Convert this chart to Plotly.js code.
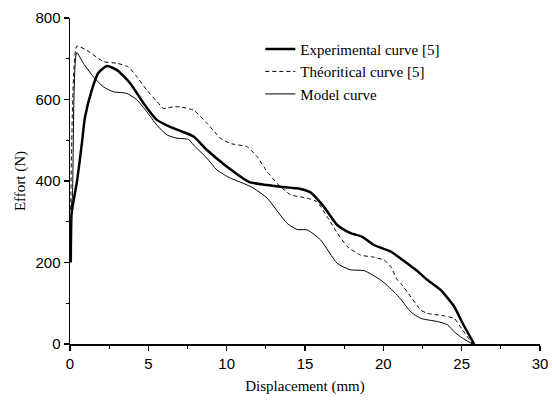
<!DOCTYPE html>
<html><head><meta charset="utf-8">
<script src="https://cdn.plot.ly/plotly-3.0.1.min.js"></script>
<style>html,body{margin:0;padding:0;background:#fff}#chart{width:552px;height:400px}</style>
</head><body><div id="chart"></div>
<script>
// Experimental curve [5]
const expX = [0.05, 0.1, 0.2, 0.45, 0.75, 0.96, 1.39, 1.8, 2.35, 3.0, 3.84, 4.69, 5.54, 6.4, 7.04, 7.89, 8.74, 10.02, 11.41, 12.58, 13.44, 14.5, 15.35, 16.2, 17.06, 17.91, 18.66, 19.4, 20.47, 21.1, 22.07, 22.82, 23.67, 24.52, 25.06, 25.8];
const expY = [200, 320, 345, 400, 490, 557, 623, 665, 682, 672, 640, 591, 550, 533, 523, 509, 476, 435, 398, 390, 386, 382, 372, 337, 292, 272, 263, 243, 227, 210, 182, 157, 132, 92, 51, 0];
// Théoritical curve [5]
const theoX = [0.05, 0.43, 1.07, 2.13, 2.99, 3.73, 4.27, 4.9, 5.55, 5.97, 6.61, 7.04, 7.89, 8.74, 9.6, 10.24, 11.3, 11.94, 12.58, 13.22, 14.08, 15.14, 15.78, 16.42, 17.06, 17.7, 18.55, 19.4, 20.05, 20.47, 20.9, 21.11, 21.75, 22.39, 22.82, 23.88, 24.52, 25.06, 25.7];
const theoY = [330, 731, 721, 693, 689, 680, 656, 623, 595, 578, 582, 582, 574, 542, 505, 492, 484, 460, 423, 394, 366, 358, 349, 312, 272, 239, 218, 213, 206, 190, 157, 149, 116, 83, 75, 69, 63, 34, 0];
// Model curve
const modX = [0.05, 0.15, 0.43, 0.85, 1.49, 2.13, 2.77, 3.63, 4.27, 4.9, 5.55, 6.19, 6.83, 7.57, 7.89, 8.74, 9.38, 10.24, 11.09, 11.73, 12.58, 13.86, 14.5, 15.14, 16.0, 17.06, 17.91, 18.77, 19.83, 20.68, 21.11, 21.75, 22.39, 23.46, 24.1, 24.52, 25.06, 25.7];
const modY = [330, 360, 715, 689, 656, 631, 619, 615, 599, 570, 537, 513, 505, 502, 488, 456, 427, 407, 394, 382, 358, 296, 281, 280, 255, 198, 182, 180, 157, 128, 110, 79, 63, 55, 47, 30, 14, 0];

const names = ['Experimental curve [5]', 'Théoritical curve [5]', 'Model curve'];
const xTicks = [0, 5, 10, 15, 20, 25, 30];
const yTicks = [0, 200, 400, 600, 800];

const serif = 'Liberation Serif';
const sans = 'Liberation Sans';

const traces = [
  {x: expX, y: expY, name: names[0], mode: 'lines', line: {color: '#000', width: 2.5, shape: 'spline', smoothing: 0.6}, cliponaxis: false},
  {x: theoX, y: theoY, name: names[1], mode: 'lines', line: {color: '#000', width: 1, dash: '4px,3px', shape: 'spline', smoothing: 0.4}, cliponaxis: false},
  {x: modX, y: modY, name: names[2], mode: 'lines', line: {color: '#000', width: 1, shape: 'spline', smoothing: 0.6}, cliponaxis: false}
];

const layout = {
  width: 552, height: 400,
  margin: {l: 70, r: 12, t: 18, b: 56},
  paper_bgcolor: '#fff', plot_bgcolor: '#fff',
  showlegend: true,
  legend: {x: 0.405, y: 0.955, xanchor: 'left', yanchor: 'top', bgcolor: 'rgba(0,0,0,0)',
           font: {family: serif, size: 15, color: '#000'},
           tracegroupgap: 0, itemwidth: 30},
  xaxis: {range: [0, 30], tickvals: xTicks, ticktext: xTicks.map(String), showgrid: false, zeroline: false,
          showline: true, linecolor: '#000', linewidth: 1.5, ticks: 'outside', ticklen: 5, tickwidth: 1.2, tickcolor: '#000',
          minor: {dtick: 2.5, ticks: 'outside', ticklen: 3, tickwidth: 1, tickcolor: '#000', showgrid: false},
          tickfont: {family: sans, size: 15, color: '#000'},
          title: {text: 'Displacement (mm)', standoff: 10, font: {family: serif, size: 15, color: '#000'}}},
  yaxis: {range: [0, 800], tickvals: yTicks, ticktext: yTicks.map(String), showgrid: false, zeroline: false,
          showline: true, linecolor: '#000', linewidth: 1.5, ticks: 'outside', ticklen: 5, tickwidth: 1.2, tickcolor: '#000',
          minor: {dtick: 100, ticks: 'outside', ticklen: 3, tickwidth: 1, tickcolor: '#000', showgrid: false},
          tickfont: {family: sans, size: 15, color: '#000'},
          title: {text: 'Effort (N)', standoff: 6, font: {family: serif, size: 15, color: '#000'}}}
};

Plotly.newPlot('chart', traces, layout, {displayModeBar: false, staticPlot: true});
</script>
</body></html>
